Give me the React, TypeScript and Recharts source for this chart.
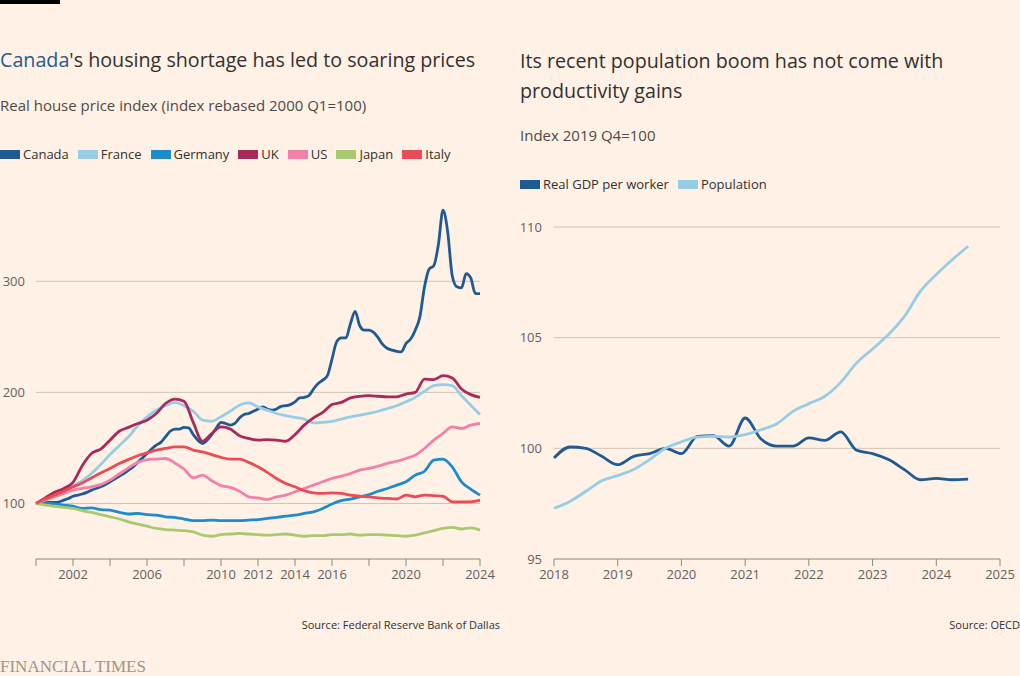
import React from "react";
import { LineChart, Line, XAxis, YAxis, CartesianGrid } from "recharts";

// ---- left chart: real house price index, 2000 Q1 = 100 ----
const halfYears = [
  2000, 2000.5, 2001, 2001.5, 2002, 2002.5, 2003, 2003.5, 2004, 2004.5,
  2005, 2005.5, 2006, 2006.5, 2007, 2007.5, 2008, 2008.5, 2009, 2009.5,
  2010, 2010.5, 2011, 2011.5, 2012, 2012.5, 2013, 2013.5, 2014, 2014.5,
  2015, 2015.5, 2016, 2016.5, 2017, 2017.5, 2018, 2018.5, 2019, 2019.5,
  2020, 2020.5, 2021, 2021.5, 2022, 2022.5, 2023, 2023.5, 2024,
];

const france = [
  100, 103.5, 107, 111, 115.5, 120.5, 127, 135, 144, 152,
  160, 170, 178, 184, 188, 191, 188, 183, 175, 174,
  178, 183, 188.5, 190.5, 187, 184, 181, 179, 177.5, 176,
  172.5, 173, 174, 176, 178, 179.5, 181, 183, 185.5, 188,
  191.5, 195.5, 201, 206, 207, 206, 197, 188.5, 180,
];
const germany = [
  100, 100.5, 99.5, 98.5, 97.5, 95.5, 96, 94.5, 94, 92,
  90.5, 91, 90, 89.5, 88, 87.5, 86, 84.5, 84.5, 85,
  84.5, 84.5, 84.5, 85, 85.5, 86.5, 87.5, 88.5, 89.5, 91,
  92.5, 95.5, 99.5, 102.5, 104, 106, 108, 111, 113.5, 116.5,
  119.5, 125.5, 129, 139, 140, 133, 119.5, 113, 107.5,
];
const uk = [
  100, 105, 110, 113.5, 119, 134, 145, 149, 157, 165,
  168.5, 172, 175, 181, 190, 194, 192, 173, 156, 163,
  169, 167, 161, 158.5, 157, 157.5, 157, 156, 162, 170.5,
  177, 182, 189, 191, 195, 196.5, 197, 196.5, 196, 196,
  198.5, 200, 212, 211.5, 215, 213, 203, 198, 195.5,
];
const us = [
  100, 103, 106, 109, 112, 113.5, 115, 117, 121, 126.5,
  132, 137, 139.5, 140, 140.5, 136.5, 131, 123, 125.5, 120.5,
  116, 114.5, 111, 106, 105, 103.6, 106, 107.5, 110.5, 113.5,
  116.5, 119.5, 122.5, 124.6, 127, 130, 131.5, 133.6, 136, 138,
  140.5, 143.5, 149.5, 157, 163, 169, 167.5, 170.5, 172,
];
const japan = [
  100, 98.5, 97.5, 96.5, 95.5, 93.5, 92, 90, 88, 86,
  83.5, 81.5, 79.5, 77.5, 76.5, 76, 75.5, 74.5, 71.5, 70.5,
  72, 72.5, 73, 72.5, 72, 71.5, 72, 72.5, 71.5, 70.5,
  71, 71, 72, 72, 72.5, 71.5, 72, 72, 71.5, 71,
  70.5, 71.5, 73.5, 75.5, 77.5, 78.5, 77, 78, 76,
];
const italy = [
  100, 104, 107.5, 111, 115, 118.5, 123, 127.5, 131.5, 136,
  139.5, 143, 145.5, 148, 149.5, 151, 151, 148, 146.5, 144,
  141.5, 140, 140, 137, 133, 128, 122.5, 118, 115, 111.5,
  109.5, 109, 109.5, 109, 107.5, 106.5, 106, 105, 104.5, 104,
  107.5, 106, 107.5, 107, 106.5, 101.5, 101.5, 101.5, 103,
];

// Canada moves fast, so it is read quarterly
const quarters = [
  2000, 2000.25, 2000.5, 2000.75, 2001, 2001.25, 2001.5, 2001.75,
  2002, 2002.25, 2002.5, 2002.75, 2003, 2003.25, 2003.5, 2003.75,
  2004, 2004.25, 2004.5, 2004.75, 2005, 2005.25, 2005.5, 2005.75,
  2006, 2006.25, 2006.5, 2006.75, 2007, 2007.25, 2007.5, 2007.75,
  2008, 2008.25, 2008.5, 2008.75, 2009, 2009.25, 2009.5, 2009.75,
  2010, 2010.25, 2010.5, 2010.75, 2011, 2011.25, 2011.5, 2011.75,
  2012, 2012.25, 2012.5, 2012.75, 2013, 2013.25, 2013.5, 2013.75,
  2014, 2014.25, 2014.5, 2014.75, 2015, 2015.25, 2015.5, 2015.75,
  2016, 2016.25, 2016.5, 2016.75, 2017, 2017.25, 2017.5, 2017.75,
  2018, 2018.25, 2018.5, 2018.75, 2019, 2019.25, 2019.5, 2019.75,
  2020, 2020.25, 2020.5, 2020.75, 2021, 2021.25, 2021.5, 2021.75,
  2022, 2022.25, 2022.5, 2022.75, 2023, 2023.25, 2023.5, 2023.75,
  2024,
];
const canada = [
  100, 100.5, 101, 101, 101, 101.5, 103, 104.5,
  106.5, 107.5, 108.5, 110, 112, 113.5, 115, 117,
  119.5, 122, 124.5, 127, 130, 133, 137, 141,
  145, 149, 152.5, 155, 160, 165, 167, 167,
  168.5, 168, 162, 157, 154, 157, 162, 168,
  173, 172, 170.5, 172, 177, 180, 181, 183,
  185, 187, 185, 184, 185, 187.5, 188, 189,
  191.5, 195, 195.5, 197, 203, 208, 211, 215,
  230, 245.5, 249, 249, 262, 273, 260, 256,
  256, 254, 249, 243, 239.5, 238, 237, 236.5,
  244, 248, 256, 268, 295, 311, 314, 333,
  364, 345, 305, 295, 294, 307, 303, 289,
  289,
];

const leftXTicks = [2000, 2002, 2004, 2006, 2008, 2010, 2012, 2014, 2016, 2018, 2020, 2022, 2024];
const leftXLabels = [2002, 2006, 2010, 2012, 2014, 2016, 2020, 2024];
const leftYTicks = [100, 200, 300];

// ---- right chart: index 2019 Q4 = 100 ----
const rightQuarters = [
  2018, 2018.25, 2018.5, 2018.75, 2019, 2019.25, 2019.5, 2019.75,
  2020, 2020.25, 2020.5, 2020.75, 2021, 2021.25, 2021.5, 2021.75,
  2022, 2022.25, 2022.5, 2022.75, 2023, 2023.25, 2023.5, 2023.75,
  2024, 2024.25, 2024.5,
];
const gdpPerWorker = [
  99.56, 100.06, 100.0, 99.64, 99.26, 99.64, 99.76, 100.0,
  99.76, 100.54, 100.57, 100.1, 101.37, 100.42, 100.1, 100.1,
  100.47, 100.36, 100.74, 99.91, 99.76, 99.49, 99.04, 98.58,
  98.64, 98.58, 98.61,
];
const population = [
  97.29, 97.6, 98.06, 98.54, 98.77, 99.04, 99.49, 100.0,
  100.29, 100.51, 100.54, 100.51, 100.62, 100.84, 101.11, 101.67,
  102.02, 102.35, 102.98, 103.86, 104.49, 105.14, 105.96, 107.09,
  107.85, 108.52, 109.13,
];
const rightXTicks = [2018, 2019, 2020, 2021, 2022, 2023, 2024, 2025];
const rightYTicks = [95, 100, 105, 110];

const BG = "#fff1e5";
const INK = "#33302e";
const MUTED = "#66605c";
const GRID = "#cfc3b8";
const AXIS = "#8f857d";
const FONT = "'Open Sans', sans-serif";

const C = {
  canada: "#1f5a93",
  france: "#96cde5",
  germany: "#1e8bcd",
  uk: "#a8295a",
  us: "#f47fa9",
  japan: "#a9c96f",
  italy: "#eb4a56",
};

const leftSeries = [
  { name: "Canada", color: C.canada },
  { name: "France", color: C.france },
  { name: "Germany", color: C.germany },
  { name: "UK", color: C.uk },
  { name: "US", color: C.us },
  { name: "Japan", color: C.japan },
  { name: "Italy", color: C.italy },
];

const leftRows = halfYears.map((year, i) => ({
  year,
  France: france[i],
  Germany: germany[i],
  UK: uk[i],
  US: us[i],
  Japan: japan[i],
  Italy: italy[i],
}));
const canadaRows = quarters.map((year, i) => ({ year, Canada: canada[i] }));
const rightRows = rightQuarters.map((year, i) => ({
  year,
  gdp: gdpPerWorker[i],
  pop: population[i],
}));

function Legend({ items, left, top }: { items: { name: string; color: string }[]; left: number; top: number }) {
  return (
    <div style={{ position: "absolute", left, top, display: "flex", alignItems: "center", fontFamily: FONT, fontSize: 13, color: INK, lineHeight: "18px" }}>
      {items.map((it) => (
        <div key={it.name} style={{ display: "flex", alignItems: "center", marginRight: 9 }}>
          <span style={{ width: 20, height: 9, background: it.color, marginRight: 3, display: "inline-block" }} />
          <span>{it.name}</span>
        </div>
      ))}
    </div>
  );
}

function YTick({ x0, y, payload }: any) {
  return (
    <text x={x0} y={y} dy="0.35em" textAnchor="end" fill={MUTED} fontSize={13} fontFamily={FONT}>
      {payload.value}
    </text>
  );
}

function XTick({ x, y, payload, labels }: any) {
  if (labels && !labels.includes(payload.value)) return <g />;
  return (
    <text x={x} y={y} dy="0.85em" textAnchor="middle" fill={MUTED} fontSize={13} fontFamily={FONT}>
      {payload.value}
    </text>
  );
}

function HousePrices() {
  // drawn in legend order, so Italy ends up on top and Canada underneath
  const others = ["France", "Germany", "UK", "US", "Japan", "Italy"];
  return (
    <LineChart width={500} height={401} margin={{ top: 10, right: 20, bottom: 0, left: 0 }}>
      <CartesianGrid vertical={false} stroke={GRID} horizontalValues={leftYTicks} />
      <XAxis
        dataKey="year"
        type="number"
        domain={[2000, 2024]}
        ticks={leftXTicks}
        allowDuplicatedCategory={false}
        height={30}
        stroke={AXIS}
        tickSize={7}
        tick={<XTick labels={leftXLabels} />}
      />
      <YAxis
        type="number"
        domain={[50, 375]}
        ticks={leftYTicks}
        width={36}
        axisLine={false}
        tickLine={false}
        tick={<YTick x0={25} />}
      />
      <Line
        data={canadaRows}
        dataKey="Canada"
        type="monotone"
        stroke={C.canada}
        strokeWidth={2.8}
        dot={false}
        isAnimationActive={false}
      />
      {others.map((name) => (
        <Line
          key={name}
          data={leftRows}
          dataKey={name}
          type="monotone"
          stroke={leftSeries.find((s) => s.name === name)!.color}
          strokeWidth={2.8}
          dot={false}
          isAnimationActive={false}
        />
      ))}
    </LineChart>
  );
}

function Productivity() {
  return (
    <LineChart width={510} height={372} data={rightRows} margin={{ top: 10, right: 20, bottom: 0, left: 0 }}>
      <CartesianGrid vertical={false} stroke={GRID} horizontalValues={[100, 105, 110]} />
      <XAxis
        dataKey="year"
        type="number"
        domain={[2018, 2025]}
        ticks={rightXTicks}
        height={30}
        stroke={AXIS}
        tickSize={7}
        tick={<XTick />}
      />
      <YAxis
        type="number"
        domain={[95, 110]}
        ticks={rightYTicks}
        width={44}
        axisLine={false}
        tickLine={false}
        tick={<YTick x0={32} />}
      />
      <Line dataKey="gdp" type="monotone" stroke={C.canada} strokeWidth={2.8} dot={false} isAnimationActive={false} />
      <Line dataKey="pop" type="monotone" stroke={C.france} strokeWidth={2.8} dot={false} isAnimationActive={false} />
    </LineChart>
  );
}

export default function App() {
  const text = (extra: React.CSSProperties) => ({ position: "absolute" as const, fontFamily: FONT, margin: 0, whiteSpace: "nowrap" as const, ...extra });
  return (
    <div style={{ position: "absolute", left: 0, top: 0, width: 1020, height: 676, background: BG, overflow: "hidden" }}>
      <div style={{ position: "absolute", left: 0, top: 0, width: 60, height: 4, background: "#000" }} />

      <div style={text({ left: 0, top: 46, fontSize: 19.7, lineHeight: "28px", color: INK })}>
        <span style={{ color: C.canada }}>Canada</span>'s housing shortage has led to soaring prices
      </div>
      <div style={text({ left: 0, top: 95, fontSize: 15, lineHeight: "20px", color: "#4f4a46" })}>
        Real house price index (index rebased 2000 Q1=100)
      </div>
      <Legend items={leftSeries} left={0} top={145} />

      <div style={text({ left: 520, top: 46, fontSize: 19.7, lineHeight: "30px", color: INK })}>
        Its recent population boom has not come with
        <br />
        productivity gains
      </div>
      <div style={text({ left: 520, top: 125, fontSize: 15, lineHeight: "20px", color: "#4f4a46" })}>
        Index 2019 Q4=100
      </div>
      <Legend
        items={[
          { name: "Real GDP per worker", color: C.canada },
          { name: "Population", color: C.france },
        ]}
        left={520}
        top={175}
      />

      <div style={{ position: "absolute", left: 0, top: 188 }}>
        <HousePrices />
      </div>
      <div style={{ position: "absolute", left: 510, top: 217 }}>
        <Productivity />
      </div>

      <div style={text({ right: 520, top: 617, fontSize: 11, lineHeight: "16px", color: INK })}>
        Source: Federal Reserve Bank of Dallas
      </div>
      <div style={text({ right: 0, top: 617, fontSize: 11, lineHeight: "16px", color: INK })}>
        Source: OECD
      </div>
      <div style={text({ left: 0, top: 656, fontSize: 17, lineHeight: "22px", color: "#a0958b", fontFamily: "'Liberation Serif', serif" })}>
        FINANCIAL TIMES
      </div>
    </div>
  );
}
